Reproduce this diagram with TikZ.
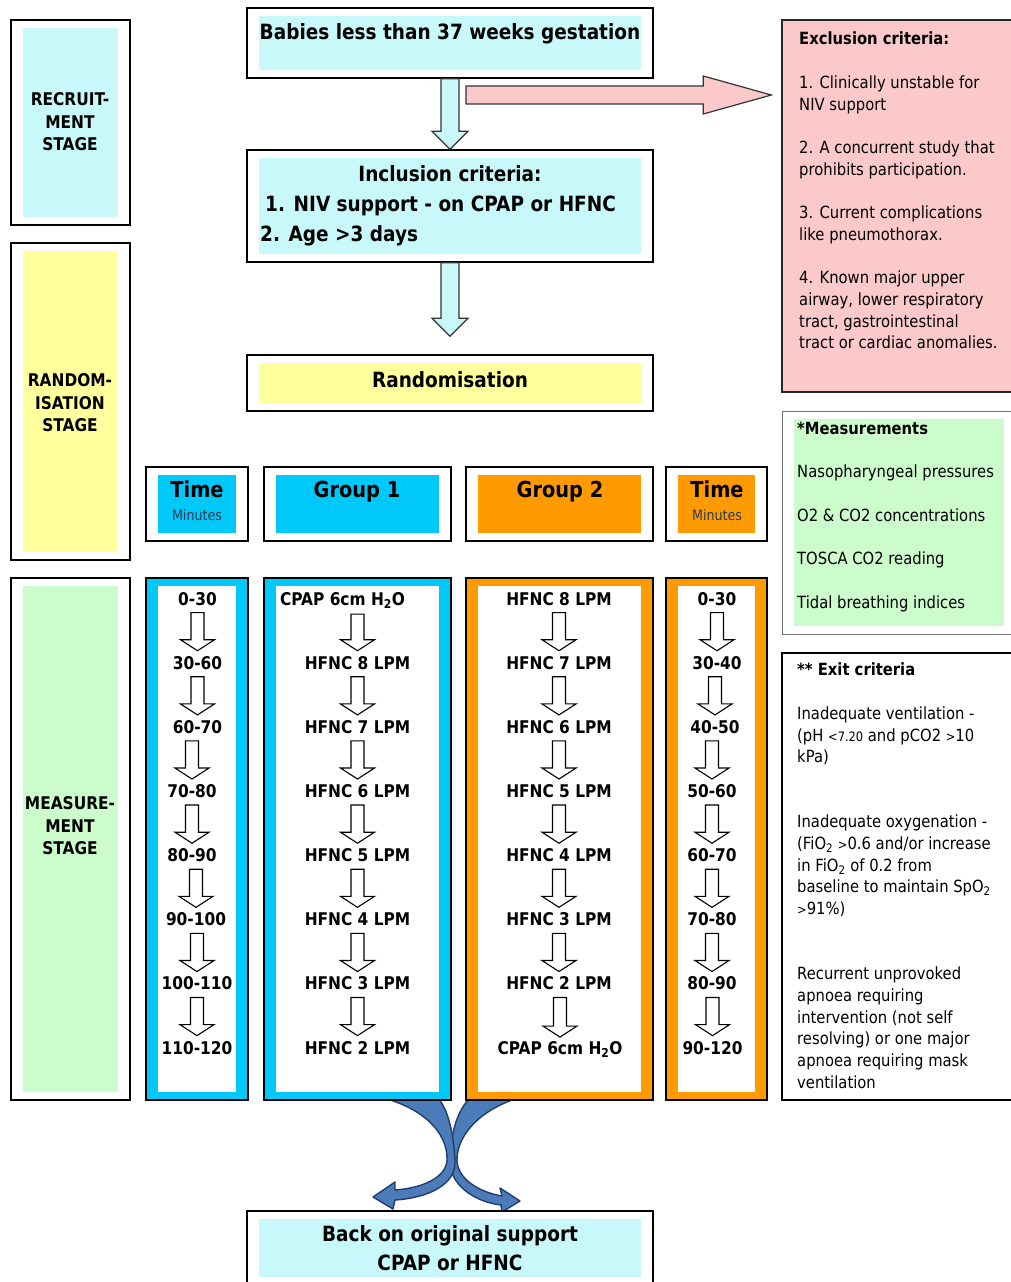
\documentclass[tikz,border=0pt]{standalone}
\usepackage{fontspec}
\setmainfont{DejaVu Sans}[FakeStretch=0.88]
\usetikzlibrary{calc}

\definecolor{paleCyan}{HTML}{C9F8FB}
\definecolor{paleYellow}{HTML}{FFFF9E}
\definecolor{paleGreen}{HTML}{CCFCCC}
\definecolor{paleRose}{HTML}{FBC9C9}
\definecolor{groupCyan}{HTML}{00C8F8}
\definecolor{groupOrange}{HTML}{FF9A00}
\definecolor{minuteInk}{HTML}{2B3A55}
\definecolor{bendFill}{HTML}{4C7BBA}
\definecolor{bendEdge}{HTML}{203D6B}

% hollow step arrow between two labels of a column
\newcommand{\stepdown}[2]{\draw[hollow] let \p1=($(#1)+(0,14)$), \p2=($(#2)+(0,-12)$) in
  (\x2-6.5pt,\y1) -- (\x2-6.5pt,\y2+11pt) -- (\x2-17pt,\y2+11pt) -- (\x2,\y2) --
  (\x2+17pt,\y2+11pt) -- (\x2+6.5pt,\y2+11pt) -- (\x2+6.5pt,\y1) -- cycle;}
% wide arrow of the recruitment flow
\newcommand{\bigdown}[2]{\draw[bigarrow] let \p1=(#1), \p2=(#2) in
  (\x1-9pt,\y1) -- (\x1-9pt,\y2+18pt) -- (\x1-18pt,\y2+18pt) -- (\x1,\y2) --
  (\x1+18pt,\y2+18pt) -- (\x1+9pt,\y2+18pt) -- (\x1+9pt,\y1) -- cycle;}

\begin{document}
\begin{tikzpicture}[x=1pt,y=-1pt,
  framed/.style={draw=black,line width=1.6pt,fill=white,inner sep=0pt,
    path picture={\fill[#1] ([shift={(12pt,-8pt)}]path picture bounding box.north west)
      rectangle ([shift={(-12pt,8pt)}]path picture bounding box.south east);}},
  column/.style={framed=white,fill=#1},
  main/.style={font=\fontsize{21}{28}\selectfont\bfseries,inner sep=0pt,anchor=base},
  head/.style={font=\fontsize{22}{24}\selectfont\bfseries,inner sep=0pt,anchor=base},
  minutes/.style={font=\fontsize{14.4}{16}\selectfont,text=minuteInk,inner sep=0pt,anchor=base},
  stage/.style={font=\fontsize{17.5}{22.5}\selectfont\bfseries,align=center,inner sep=0pt},
  item/.style={font=\fontsize{17.5}{20}\selectfont\bfseries,inner sep=0pt,anchor=base},
  side/.style={font=\fontsize{16.8}{21.7}\selectfont,align=left,anchor=north west,inner sep=0pt},
  hollow/.style={draw=black,fill=white,line width=1.1pt,line join=miter},
  bigarrow/.style={draw=black!80,fill=paleCyan,line width=1.2pt,line join=miter},
  bendarrow/.style={draw=bendEdge,fill=bendFill,line width=1.4pt,line join=round}]
  \useasboundingbox (0,0) rectangle (1011,1282);

  % Stages
  \node[framed=paleCyan,minimum width=119,minimum height=205] (recruit) at (70.5,122.5) {};
  \node[stage] (recruittxt) at (70,122) {RECRUIT-\\MENT\\STAGE};
  \node[framed=paleYellow,minimum width=119,minimum height=317] (randstage) at (70.5,401.5) {};
  \node[stage] (randstagetxt) at (70,403) {RANDOM-\\ISATION\\STAGE};
  \node[framed=paleGreen,minimum width=119,minimum height=522] (measstage) at (70.5,839) {};
  \node[stage] (measstagetxt) at (70,826) {MEASURE-\\MENT\\STAGE};

  % Recruitment flow
  \node[framed=paleCyan,minimum width=406,minimum height=70] (babies) at (450,43) {};
  \node[main] (babiestxt) at (450,39.5) {Babies less than 37 weeks gestation};
  \node[framed=paleCyan,minimum width=406,minimum height=112] (incl) at (450,206) {};
  \node[main] (incltitle) at (450,181.5) {Inclusion criteria:};
  \node[main,anchor=base west] (inclone) at (265,211.5) {1. NIV support - on CPAP or HFNC};
  \node[main,anchor=base west] (incltwo) at (260,241) {2. Age >3 days};
  \node[framed=paleYellow,minimum width=406,minimum height=56] (rand) at (450,383) {};
  \node[main] (randtxt) at (450,387.5) {Randomisation};

  \bigdown{babies.south}{incl.north}
  \bigdown{incl.south}{$(rand.north)+(0,-18)$}

  % Exclusion
  \node[draw=black!85,line width=1.4pt,fill=paleRose,minimum width=234,minimum height=372] (excl) at (899,206) {};
  \node[side] (excltxt) at (799,32) {{\bfseries Exclusion criteria:}\\[21.7pt]
    1. Clinically unstable for\\NIV support\\[21.7pt]
    2. A concurrent study that\\prohibits participation.\\[21.7pt]
    3. Current complications\\like pneumothorax.\\[21.7pt]
    4. Known major upper\\airway, lower respiratory\\tract, gastrointestinal\\tract or cardiac anomalies.};
  \coordinate (exstart) at (466,95);
  \draw[bigarrow,fill=paleRose] let \p1=(exstart), \p2=($(excl.west |- exstart)+(-10,0)$) in
    (\x1,\y1+9pt) -- (\x2-68pt,\y1+9pt) -- (\x2-68pt,\y1+19pt) -- (\x2,\y1) --
    (\x2-68pt,\y1-19pt) -- (\x2-68pt,\y1-9pt) -- (\x1,\y1-9pt) -- cycle;

  % Measurements and exit criteria
  \node[framed=paleGreen,draw=black!55,line width=1pt,minimum width=234,minimum height=223] (meas) at (899,522.5) {};
  \node[side] (meastxt) at (797,422) {{\bfseries *Measurements}\\[21.5pt]
    Nasopharyngeal pressures\\[21.5pt]
    O2 \& CO2 concentrations\\[21.5pt]
    TOSCA CO2 reading\\[23pt]
    Tidal breathing indices};
  \node[draw=black,line width=1.4pt,fill=white,minimum width=234,minimum height=447] (exit) at (899,876.5) {};
  \node[side] (exittxt) at (797,663) {{\bfseries ** Exit criteria}\\[21.7pt]
    Inadequate ventilation -\\(pH {\fontsize{13}{13}\selectfont<7.20} and pCO2 {\fontsize{13}{13}\selectfont>}10\\kPa)\\[43.4pt]
    Inadequate oxygenation -\\(FiO\textsubscript{2} {\fontsize{13}{13}\selectfont>}0.6 and/or increase\\in FiO\textsubscript{2} of 0.2 from\\baseline to maintain SpO\textsubscript{2}\\{\fontsize{13}{13}\selectfont>}91\%)\\[43.4pt]
    Recurrent unprovoked\\apnoea requiring\\intervention (not self\\resolving) or one major\\apnoea requiring mask\\ventilation};

  % Crossing arrows back to original support
  \coordinate (cross) at (452,1160);
  \begin{scope}[shift={(cross)}]
    \draw[bendarrow] (66,-62) .. controls (28,-50) and (5,-25) .. (5,0) .. controls (5,18) and (26,32) .. (50,36)
      -- (48,28) -- (68,41) -- (50,52) -- (49,45) .. controls (23,42) and (-3,25) .. (-2,0)
      .. controls (-1,-30) and (6,-50) .. (18,-62) -- cycle;
    \draw[bendarrow] (-69,-62) .. controls (-30,-52) and (-4,-28) .. (-5,0) .. controls (-6,18) and (-30,28) .. (-57,30)
      -- (-57,22) -- (-79,37) -- (-59,49) -- (-57,40) .. controls (-25,38) and (5,25) .. (3,0)
      .. controls (1,-30) and (-4,-50) .. (-14,-62) -- cycle;
  \end{scope}

  % Group headers
  \node[framed=groupCyan,minimum width=102,minimum height=74] (timeA) at (197,504) {};
  \node[head] (timeAtxt) at (197,497) {Time};
  \node[minutes] (timeAmin) at (197,520) {Minutes};
  \node[framed=groupCyan,minimum width=187,minimum height=74] (groupA) at (357.5,504) {};
  \node[head] (groupAtxt) at (357,497) {Group 1};
  \node[framed=groupOrange,minimum width=187,minimum height=74] (groupB) at (559.5,504) {};
  \node[head] (groupBtxt) at (560,497) {Group 2};
  \node[framed=groupOrange,minimum width=101,minimum height=74] (timeB) at (716.5,504) {};
  \node[head] (timeBtxt) at (717,497) {Time};
  \node[minutes] (timeBmin) at (717,520) {Minutes};

  % Time column, group 1
  \node[column=groupCyan,minimum width=102,minimum height=522] (timeAcol) at (197,839) {};
  \node[item] (ta1) at (197.5,605) {0-30};
  \node[item] (ta2) at (197.5,669.1) {30-60};
  \node[item] (ta3) at (197.5,733.3) {60-70};
  \node[item] (ta4) at (192,797.4) {70-80};
  \node[item] (ta5) at (192,861.6) {80-90};
  \node[item] (ta6) at (196,925.7) {90-100};
  \node[item] (ta7) at (197,989.9) {100-110};
  \node[item] (ta8) at (197,1054) {110-120};

  % Group 1
  \node[column=groupCyan,minimum width=187,minimum height=522] (groupAcol) at (357.5,839) {};
  \node[item] (ga1) at (342.5,605) {CPAP 6cm H\textsubscript{2}O};
  \node[item] (ga2) at (357.5,669.1) {HFNC 8 LPM};
  \node[item] (ga3) at (357.5,733.3) {HFNC 7 LPM};
  \node[item] (ga4) at (357.5,797.4) {HFNC 6 LPM};
  \node[item] (ga5) at (357.5,861.6) {HFNC 5 LPM};
  \node[item] (ga6) at (357.5,925.7) {HFNC 4 LPM};
  \node[item] (ga7) at (357.5,989.9) {HFNC 3 LPM};
  \node[item] (ga8) at (357.5,1054) {HFNC 2 LPM};

  % Group 2
  \node[column=groupOrange,minimum width=187,minimum height=522] (groupBcol) at (559.5,839) {};
  \node[item] (gb1) at (559,605) {HFNC 8 LPM};
  \node[item] (gb2) at (559,669.1) {HFNC 7 LPM};
  \node[item] (gb3) at (559,733.3) {HFNC 6 LPM};
  \node[item] (gb4) at (559,797.4) {HFNC 5 LPM};
  \node[item] (gb5) at (559,861.6) {HFNC 4 LPM};
  \node[item] (gb6) at (559,925.7) {HFNC 3 LPM};
  \node[item] (gb7) at (559,989.9) {HFNC 2 LPM};
  \node[item] (gb8) at (560,1054) {CPAP 6cm H\textsubscript{2}O};

  % Time column, group 2
  \node[column=groupOrange,minimum width=101,minimum height=522] (timeBcol) at (716.5,839) {};
  \node[item] (tb1) at (717,605) {0-30};
  \node[item] (tb2) at (717,669.1) {30-40};
  \node[item] (tb3) at (715,733.3) {40-50};
  \node[item] (tb4) at (712,797.4) {50-60};
  \node[item] (tb5) at (712,861.6) {60-70};
  \node[item] (tb6) at (712,925.7) {70-80};
  \node[item] (tb7) at (712,989.9) {80-90};
  \node[item] (tb8) at (712.5,1054) {90-120};

  \stepdown{ta1}{ta2} \stepdown{ta2}{ta3} \stepdown{ta3}{ta4} \stepdown{ta4}{ta5}
  \stepdown{ta5}{ta6} \stepdown{ta6}{ta7} \stepdown{ta7}{ta8}
  \stepdown{ga1}{ga2} \stepdown{ga2}{ga3} \stepdown{ga3}{ga4} \stepdown{ga4}{ga5}
  \stepdown{ga5}{ga6} \stepdown{ga6}{ga7} \stepdown{ga7}{ga8}
  \stepdown{gb1}{gb2} \stepdown{gb2}{gb3} \stepdown{gb3}{gb4} \stepdown{gb4}{gb5}
  \stepdown{gb5}{gb6} \stepdown{gb6}{gb7} \stepdown{gb7}{gb8}
  \stepdown{tb1}{tb2} \stepdown{tb2}{tb3} \stepdown{tb3}{tb4} \stepdown{tb4}{tb5}
  \stepdown{tb5}{tb6} \stepdown{tb6}{tb7} \stepdown{tb7}{tb8}

  % Back on original support
  \node[framed=paleCyan,minimum width=406,minimum height=74] (back) at (450,1248) {};
  \node[main] (backone) at (450,1241.5) {Back on original support};
  \node[main] (backtwo) at (450,1270) {CPAP or HFNC};
\end{tikzpicture}
\end{document}
